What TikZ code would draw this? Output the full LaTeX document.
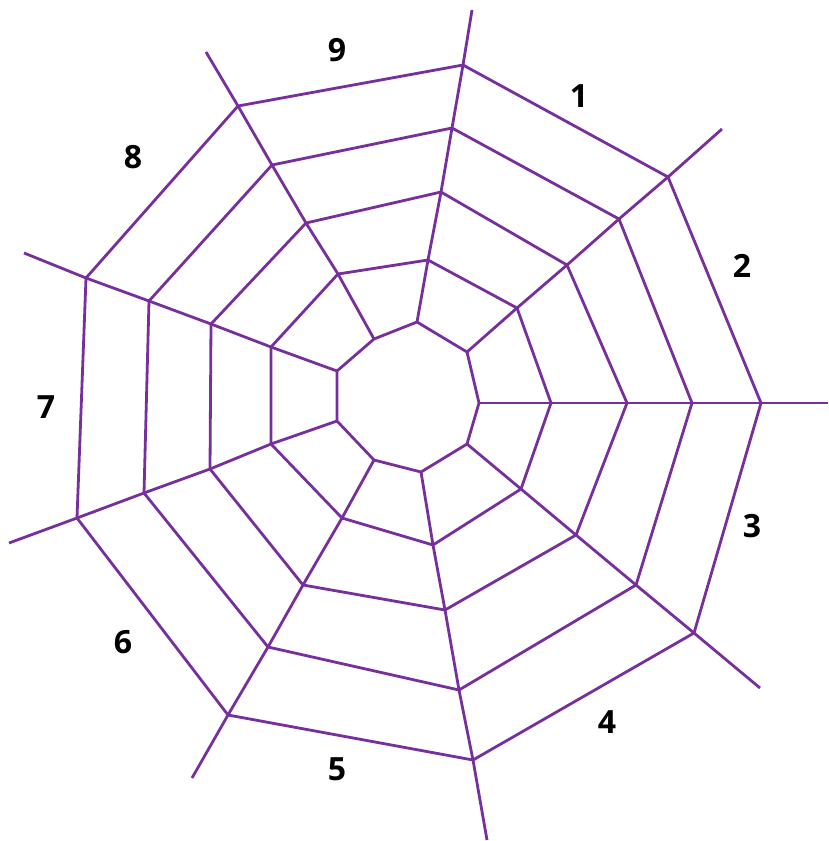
\documentclass[tikz,border=0pt]{standalone}
\usepackage{fontspec}
\setsansfont{Open Sans}
\definecolor{webpurple}{HTML}{772F9C}

\begin{document}
\begin{tikzpicture}[x=1pt, y=-1pt,
    web/.style={draw=webpurple, line width=2.8pt, line join=round},
    num/.style={font=\sffamily\bfseries\fontsize{32}{38}\selectfont, inner sep=0pt}]
  \useasboundingbox (0,0) rectangle (829,841);
  % spokes, from the hub (0) out to the free end (5)
  \coordinate (a0) at (479,403); \coordinate (a1) at (551,403); \coordinate (a2) at (627,403); \coordinate (a3) at (692,403); \coordinate (a4) at (761,403); \coordinate (a5) at (828,403);
  \coordinate (b0) at (467,444); \coordinate (b1) at (521,489); \coordinate (b2) at (576,535); \coordinate (b3) at (636,585); \coordinate (b4) at (694,633); \coordinate (b5) at (760,688);
  \coordinate (c0) at (421,472); \coordinate (c1) at (433,545); \coordinate (c2) at (445,610); \coordinate (c3) at (459,690); \coordinate (c4) at (473,760); \coordinate (c5) at (487,840);
  \coordinate (d0) at (374,460); \coordinate (d1) at (342,518); \coordinate (d2) at (303,585); \coordinate (d3) at (268,647); \coordinate (d4) at (228,715); \coordinate (d5) at (192,778);
  \coordinate (e0) at (337,421); \coordinate (e1) at (271,444); \coordinate (e2) at (210,469); \coordinate (e3) at (144,493); \coordinate (e4) at (77,518);  \coordinate (e5) at (9,543);
  \coordinate (f0) at (337,371); \coordinate (f1) at (271,347); \coordinate (f2) at (211,324); \coordinate (f3) at (149,301); \coordinate (f4) at (86,278);  \coordinate (f5) at (24,253);
  \coordinate (g0) at (374,339); \coordinate (g1) at (338,274); \coordinate (g2) at (306,223); \coordinate (g3) at (272,165); \coordinate (g4) at (238,106); \coordinate (g5) at (206,52);
  \coordinate (h0) at (417,322); \coordinate (h1) at (428,260); \coordinate (h2) at (441,192); \coordinate (h3) at (452,128); \coordinate (h4) at (463,65);  \coordinate (h5) at (472,10);
  \coordinate (i0) at (467,352); \coordinate (i1) at (517,308); \coordinate (i2) at (567,265); \coordinate (i3) at (619,219); \coordinate (i4) at (668,177); \coordinate (i5) at (722,129);
  % rings
  \draw[web] (a0) -- (b0) -- (c0) -- (d0) -- (e0) -- (f0) -- (g0) -- (h0) -- (i0) -- cycle;
  \draw[web] (a1) -- (b1) -- (c1) -- (d1) -- (e1) -- (f1) -- (g1) -- (h1) -- (i1) -- cycle;
  \draw[web] (a2) -- (b2) -- (c2) -- (d2) -- (e2) -- (f2) -- (g2) -- (h2) -- (i2) -- cycle;
  \draw[web] (a3) -- (b3) -- (c3) -- (d3) -- (e3) -- (f3) -- (g3) -- (h3) -- (i3) -- cycle;
  \draw[web] (a4) -- (b4) -- (c4) -- (d4) -- (e4) -- (f4) -- (g4) -- (h4) -- (i4) -- cycle;
  % threads
  \draw[web] (a0) -- (a1) -- (a2) -- (a3) -- (a4) -- (a5);
  \draw[web] (b0) -- (b1) -- (b2) -- (b3) -- (b4) -- (b5);
  \draw[web] (c0) -- (c1) -- (c2) -- (c3) -- (c4) -- (c5);
  \draw[web] (d0) -- (d1) -- (d2) -- (d3) -- (d4) -- (d5);
  \draw[web] (e0) -- (e1) -- (e2) -- (e3) -- (e4) -- (e5);
  \draw[web] (f0) -- (f1) -- (f2) -- (f3) -- (f4) -- (f5);
  \draw[web] (g0) -- (g1) -- (g2) -- (g3) -- (g4) -- (g5);
  \draw[web] (h0) -- (h1) -- (h2) -- (h3) -- (h4) -- (h5);
  \draw[web] (i0) -- (i1) -- (i2) -- (i3) -- (i4) -- (i5);
  % sector numbers
  \node[num] (lab1) at (579,96)  {1};
  \node[num] (lab2) at (742,266) {2};
  \node[num] (lab3) at (752,526) {3};
  \node[num] (lab4) at (607,722) {4};
  \node[num] (lab5) at (337,769) {5};
  \node[num] (lab6) at (123,642) {6};
  \node[num] (lab7) at (46,407)  {7};
  \node[num] (lab8) at (133,157) {8};
  \node[num] (lab9) at (337,50)  {9};
\end{tikzpicture}
\end{document}
